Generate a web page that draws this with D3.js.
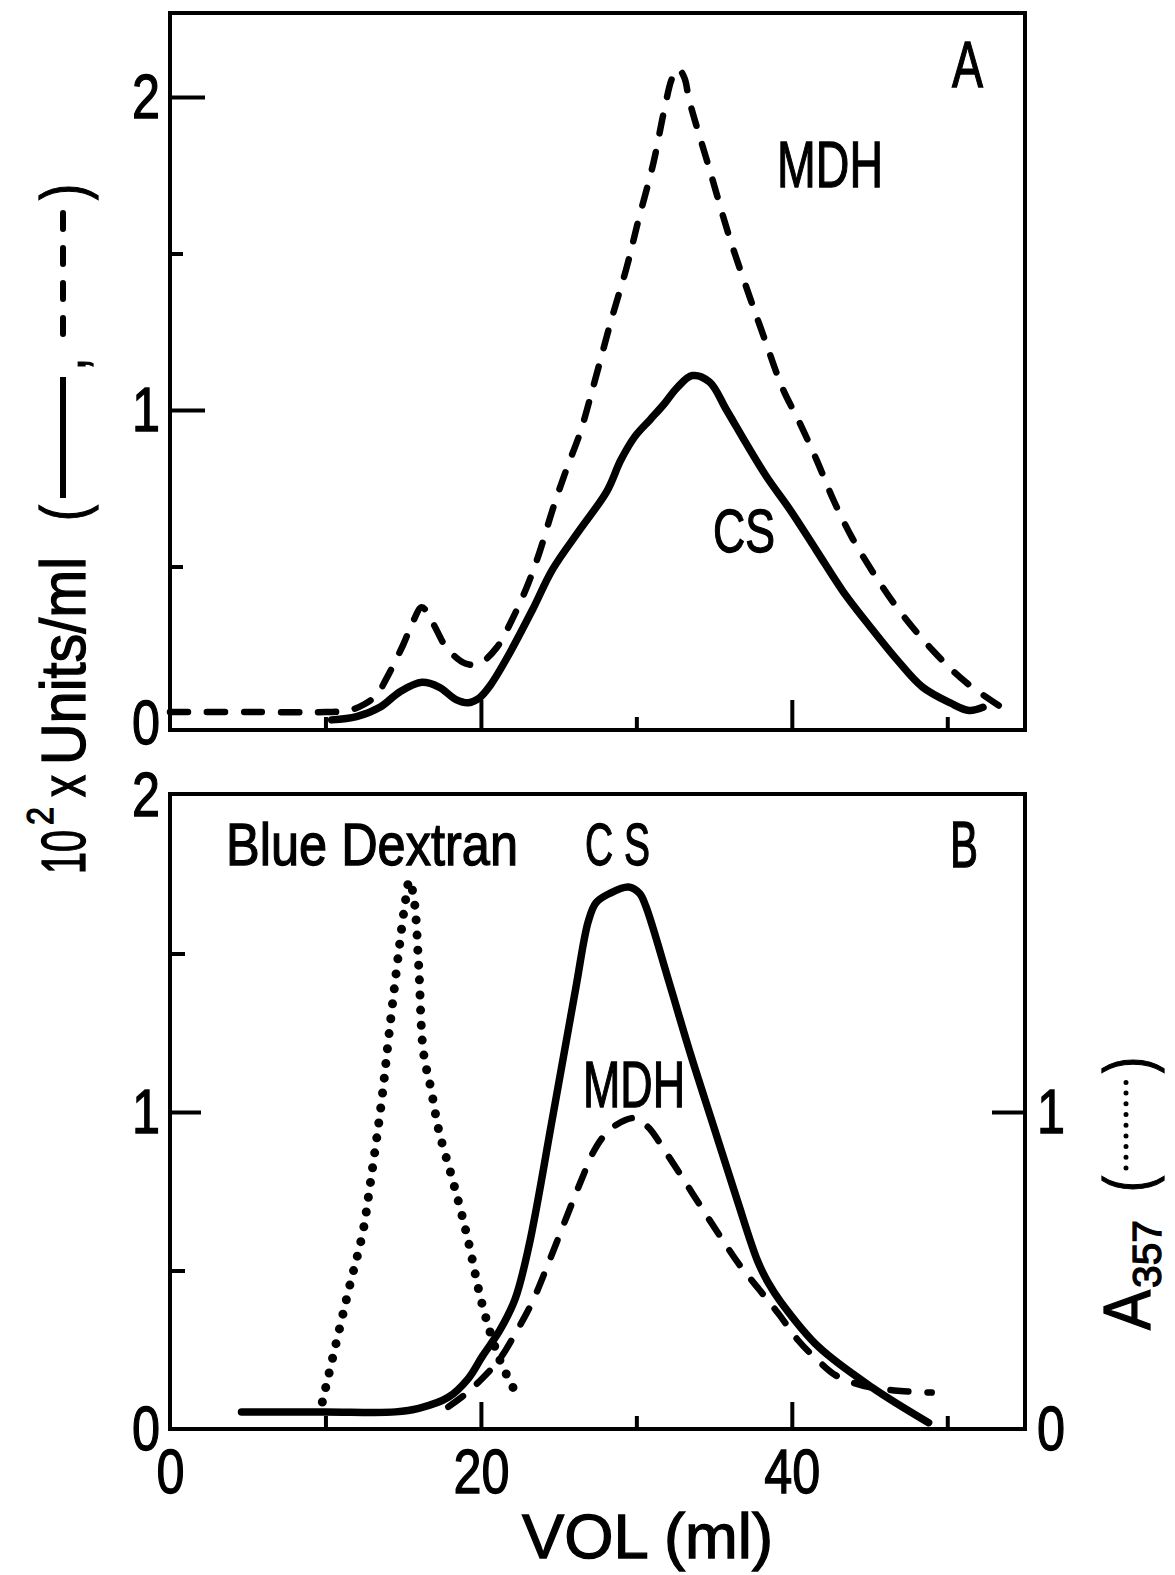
<!DOCTYPE html>
<html>
<head>
<meta charset="UTF-8">
<title>Elution profiles: CS and MDH</title>
<script src="https://d3js.org/d3.v7.min.js"></script>
<style>
  body { margin: 0; background: #fff; }
  svg { display: block; }
  text { font-family: 'Liberation Sans', Arial, sans-serif; fill: #000; stroke: #000; stroke-width: 1.3px; }
  .frame { fill: none; stroke: #000; stroke-width: 4; }
  .tick line { stroke: #000; stroke-width: 4; }
  .curve { fill: none; stroke: #000; }
</style>
</head>
<body>
<svg id="chart" width="1175" height="1575"></svg>
<script>
// [vol (ml), value] pairs
// panel A: 10^2 x units/ml
var csA = [[10.4,0.01],[12,0.02],[13.5,0.05],[14.8,0.10],[16.2,0.13],[17.3,0.115],[18.4,0.075],[19.2,0.065],
           [19.9,0.08],[20.6,0.12],[21.7,0.21],[23.3,0.36],[24.6,0.49],[26.4,0.62],[28.1,0.74],[29.0,0.84],
           [29.9,0.915],[30.9,0.97],[31.8,1.02],[32.6,1.07],[33.6,1.11],[34.7,1.09],[35.8,1.00],[37.1,0.89],
           [38.4,0.785],[39.9,0.68],[41.6,0.55],[43.3,0.42],[45.0,0.31],[46.8,0.20],[48.4,0.115],[50.2,0.064],
           [51.4,0.04],[52.3,0.05]];
var mdhA = [[0,0.035],[5,0.035],[10,0.035],[11.5,0.04],[12.5,0.06],[13.3,0.09],[13.9,0.14],[15.0,0.25],[15.6,0.32],
            [16.2,0.37],[16.9,0.32],[17.8,0.24],[19.0,0.19],[19.9,0.19],[21.0,0.24],[22.1,0.34],[23.0,0.44],
            [23.8,0.55],[24.6,0.68],[25.5,0.81],[26.4,0.93],[27.2,1.07],[28.4,1.29],[29.4,1.46],[30.1,1.60],
            [31.1,1.79],[31.8,1.96],[32.3,2.06],[32.7,2.09],[33.1,2.06],[33.4,1.99],[34.7,1.77],[36.0,1.55],
            [37.3,1.36],[38.3,1.22],[39.4,1.07],[40.5,0.96],[41.6,0.84],[42.7,0.71],[43.9,0.59],[45.5,0.46],
            [46.9,0.36],[49.1,0.23],[51.2,0.13],[53.8,0.04]];

// panel B: 10^2 x units/ml (CS, MDH) and A357 (Blue Dextran)
var csB = [[4.6,0.054],[10,0.054],[14.5,0.054],[16,0.065],[17.9,0.10],[19.2,0.16],[20.1,0.23],[21.2,0.31],
           [22.2,0.41],[23.1,0.58],[24.6,0.98],[26.1,1.39],[26.9,1.60],[27.4,1.66],[28.3,1.69],[29.5,1.71],
           [30.2,1.69],[30.6,1.65],[32.1,1.41],[33.5,1.18],[35.0,0.95],[36.5,0.72],[37.8,0.53],[38.5,0.46],
           [39.3,0.40],[41.7,0.26],[45.2,0.13],[48.8,0.02]];
var mdhB = [[17.9,0.07],[19,0.11],[20.1,0.16],[21.2,0.22],[22.2,0.30],[23.3,0.40],[24.4,0.53],[25.6,0.68],
            [26.5,0.79],[27.3,0.88],[28.2,0.94],[29.3,0.975],[30.0,0.98],[30.8,0.95],[31.8,0.88],[33.0,0.79],
            [34.3,0.69],[35.5,0.60],[36.6,0.52],[37.9,0.44],[39.2,0.36],[40.4,0.28],[41.6,0.22],[42.8,0.17],
            [44.0,0.145],[45.2,0.13],[47,0.12],[49.0,0.115]];
var dextranB = [[9.8,0.085],[11.5,0.44],[12.4,0.62],[12.9,0.78],[13.6,1.03],[14.1,1.25],[14.7,1.50],[15.1,1.65],
                [15.4,1.73],[15.7,1.67],[16.0,1.46],[16.3,1.19],[16.8,1.07],[17.3,0.94],[18.1,0.80],[18.7,0.69],
                [19.2,0.59],[20.1,0.39],[21.2,0.22],[22.4,0.10]];

// ticks
var xLabelTicks = [0, 20, 40];
var xMajorTicks = [20, 40];
var xMinorTicks = [10, 30, 50];
var yLabelTicks = [0, 1, 2];
var yMinorTicks = [0.5, 1.5];
var rightLabelTicks = [0, 1];

var svg = d3.select('#chart');

var x = d3.scaleLinear().domain([0, 55]).range([170, 1025]);
var yA = d3.scaleLinear().domain([0, 2]).range([723, 97]);
var yB = d3.scaleLinear().domain([0, 2]).range([1429, 795]);

function squeeze(sel, k) {
    sel.each(function() {
        var w = this.getComputedTextLength();
        d3.select(this).attr('textLength', w * k).attr('lengthAdjust', 'spacingAndGlyphs');
    });
}

function drawCurve(data, y, width, dash, cap) {
    var line = d3.line()
        .x(function(d) { return x(d[0]); })
        .y(function(d) { return y(d[1]); })
        .curve(d3.curveCatmullRom.alpha(0.5));
    svg.append('path')
        .datum(data)
        .attr('class', 'curve')
        .attr('d', line)
        .attr('stroke-width', width)
        .attr('stroke-dasharray', dash)
        .attr('stroke-linecap', cap)
        .attr('stroke-linejoin', 'round');
}

function bottomAxis(yPos, vals, len, labels) {
    var ax = d3.axisBottom(x).tickValues(vals).tickSizeInner(-len).tickSizeOuter(0).tickPadding(19);
    if (!labels) ax.tickFormat('');
    var g = svg.append('g').attr('transform', 'translate(0,' + yPos + ')').call(ax);
    g.select('.domain').remove();
    g.selectAll('text').attr('font-size', 63).attr('font-family', null);
    squeeze(g.selectAll('text'), 0.8);
    return g;
}

function leftAxis(y, vals, len, labels) {
    var ax = d3.axisLeft(y).tickValues(vals).tickSizeInner(-len).tickSizeOuter(0).tickPadding(10);
    ax.tickFormat(labels ? d3.format('d') : '');
    var g = svg.append('g').attr('transform', 'translate(170,0)').call(ax);
    g.select('.domain').remove();
    g.selectAll('text').attr('font-size', 63).attr('font-family', null);
    squeeze(g.selectAll('text'), 0.8);
    return g;
}

// curves, panel A
drawCurve(mdhA, yA, 6.5, '18 19', 'round');
drawCurve(csA, yA, 7.5, null, 'round');

// curves, panel B
drawCurve(dextranB, yB, 9, '0 15', 'round');
drawCurve(mdhB, yB, 6.5, '18 19', 'round');
drawCurve(csB, yB, 7.5, null, 'round');

// frames
svg.append('rect').attr('class', 'frame')
    .attr('x', 170).attr('y', 13).attr('width', 855).attr('height', 717);
svg.append('rect').attr('class', 'frame')
    .attr('x', 170).attr('y', yB(2) - 1).attr('width', 855).attr('height', yB(0) - yB(2) + 1);

// panel A ticks
bottomAxis(730, xMajorTicks, 30, false);
bottomAxis(730, xMinorTicks, 13, false);
leftAxis(yA, [1, 2], 35, false);
leftAxis(yA, yMinorTicks, 13, false);
leftAxis(yA, yLabelTicks, 0, true);

// panel B ticks
bottomAxis(1429, xMajorTicks, 27, false);
bottomAxis(1429, xMinorTicks, 13, false);
bottomAxis(1429, xLabelTicks, 0, true);
leftAxis(yB, [1], 31, false);
leftAxis(yB, yMinorTicks, 15, false);
leftAxis(yB, yLabelTicks, 0, true);

// right axis of panel B (A357)
var rAx = d3.axisRight(yB).tickValues([1]).tickSizeInner(-33).tickSizeOuter(0).tickFormat('');
var rg = svg.append('g').attr('transform', 'translate(1025,0)').call(rAx);
rg.select('.domain').remove();
var rAxL = d3.axisRight(yB).tickValues(rightLabelTicks).tickSizeInner(0).tickSizeOuter(0).tickPadding(12).tickFormat(d3.format('d'));
var rgl = svg.append('g').attr('transform', 'translate(1025,0)').call(rAxL);
rgl.select('.domain').remove();
rgl.selectAll('text').attr('font-size', 63).attr('font-family', null);
squeeze(rgl.selectAll('text'), 0.8);

// annotations
function label(txt, px, py, size, width) {
    return svg.append('text')
        .attr('x', px).attr('y', py)
        .attr('font-size', size)
        .attr('textLength', width)
        .attr('lengthAdjust', 'spacingAndGlyphs')
        .text(txt);
}
label('A', 952, 87, 64, 31);
label('MDH', 777, 187, 65, 106);
label('CS', 713, 552, 62, 62);
label('Blue Dextran', 226, 865, 60, 292);
label('C S', 585, 865, 60, 65);
label('B', 950, 867, 64, 28);
label('MDH', 583, 1107, 64, 102);
label('VOL (ml)', 522, 1558, 63, 251);

// left axis title, rotated
var yt = svg.append('g').attr('transform', 'translate(85,874) rotate(-90)');
function rtext(g, txt, px, py, size, width) {
    var t = g.append('text').attr('x', px).attr('y', py).attr('font-size', size).text(txt);
    if (width) t.attr('textLength', width).attr('lengthAdjust', 'spacingAndGlyphs');
    return t;
}
rtext(yt, '10', 0, 0, 63, 44);
rtext(yt, '2', 49, -32, 36, 18);
rtext(yt, 'x', 77, 0, 63, 22);
rtext(yt, 'Units/ml', 109, 0, 63, 208);
rtext(yt, '(', 353, 0, 63, 16);
yt.append('line').attr('x1', 376).attr('x2', 497).attr('y1', -22).attr('y2', -22)
    .attr('stroke', '#000').attr('stroke-width', 6);
rtext(yt, ',', 504, 0, 63, 12);
yt.append('line').attr('x1', 540).attr('x2', 669).attr('y1', -22).attr('y2', -22)
    .attr('stroke', '#000').attr('stroke-width', 6).attr('stroke-dasharray', '16 19')
    .attr('stroke-linecap', 'round');
rtext(yt, ')', 674, 0, 63, 16);

// right axis title, rotated
var rt = svg.append('g').attr('transform', 'translate(1150,1330) rotate(-90)');
rtext(rt, 'A', 0, 0, 66, 40);
rtext(rt, '357', 42, 11, 40, 68);
rtext(rt, '(', 138, 0, 66, 16);
rt.append('line').attr('x1', 162).attr('x2', 248).attr('y1', -24).attr('y2', -24)
    .attr('stroke', '#000').attr('stroke-width', 5).attr('stroke-dasharray', '0 10.7')
    .attr('stroke-linecap', 'round');
rtext(rt, ')', 257, 0, 66, 16);
</script>
</body>
</html>
